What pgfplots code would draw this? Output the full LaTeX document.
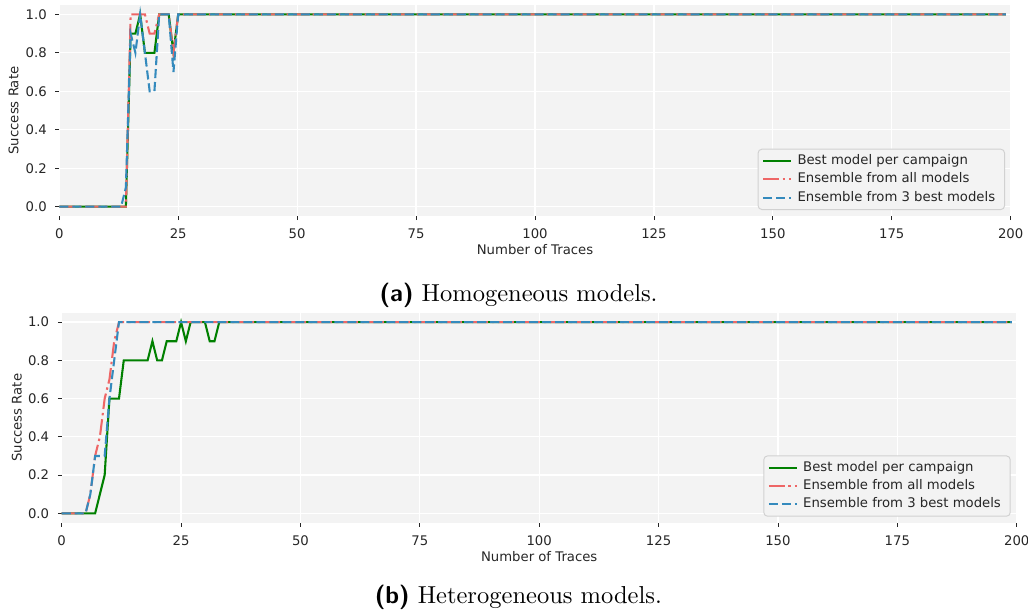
\documentclass[border=0pt]{standalone}
\usepackage{fontspec}
\usepackage{pgfplots}
\pgfplotsset{compat=1.18}
\newfontfamily\dejavu{DejaVu Sans}
\definecolor{bgcol}{HTML}{F3F3F3}
\definecolor{cgreen}{HTML}{008000}
\definecolor{cred}{HTML}{EE6666}
\definecolor{cblue}{HTML}{348ABD}
\definecolor{txt}{HTML}{262626}
\newcommand{\axfont}{\dejavu\fontsize{5.4}{6.5}\selectfont}

\pgfplotstableread{
x y
0 0
14 0
15 0.9
16 0.9
17 1.0
18 0.8
19 0.8
20 0.8
21 1.0
22 1.0
23 1.0
24 0.8
25 1.0
199 1.0
}\topgreen
\pgfplotstableread{
x y
0 0
14 0
15 1.0
16 1.0
17 1.0
18 1.0
19 0.9
20 0.9
21 1.0
22 1.0
23 1.0
24 0.8
25 1.0
199 1.0
}\topred
\pgfplotstableread{
x y
0 0
13 0
14 0.1
15 0.9
16 0.8
17 1.0
18 0.8
19 0.6
20 0.6
21 1.0
22 1.0
23 1.0
24 0.7
25 1.0
199 1.0
}\topblue
\pgfplotstableread{
x y
0 0
7 0
8 0.1
9 0.2
10 0.6
12 0.6
13 0.8
18 0.8
19 0.9
20 0.8
21 0.8
22 0.9
24 0.9
25 1.0
26 0.9
27 1.0
30 1.0
31 0.9
32 0.9
33 1.0
199 1.0
}\botgreen
\pgfplotstableread{
x y
0 0
5 0
6 0.1
7 0.3
8 0.4
9 0.6
10 0.7
11 0.9
12 1.0
199 1.0
}\botred
\pgfplotstableread{
x y
0 0
5 0
6 0.1
7 0.3
8 0.3
9 0.3
10 0.6
11 0.8
12 1.0
199 1.0
}\botblue

\pgfplotsset{
  mystyle/.style={
    scale only axis,
    xmin=0, xmax=200, ymin=-0.05, ymax=1.05,
    xtick={0,25,50,75,100,125,150,175,200},
    ytick={0,0.2,0.4,0.6,0.8,1.0},
    yticklabel={\pgfmathprintnumber[fixed,fixed zerofill,precision=1]{\tick}},
    /pgf/number format/assume math mode=true,
    scaled ticks=false,
    tick label style={font=\axfont, text=txt},
    axis background/.style={fill=bgcol},
    axis line style={draw=none},
    grid=major,
    major grid style={white, line width=0.5pt},
    tick align=outside,
    tick pos=left,
    major tick length=1.6pt,
    tick style={color=txt, line width=0.35pt},
    xlabel={Number of Traces},
    ylabel={Success Rate},
    legend cell align=left,
    legend style={draw=black!18, fill=bgcol, rounded corners=1.5pt,
      font=\axfont, text=txt, inner xsep=1.6pt, inner ysep=1.2pt,
      row sep=0.3pt,
      nodes={inner xsep=2.2pt, inner ysep=1pt, text height=4pt, text depth=1.2pt}},
    legend image code/.code={\draw[##1] (0pt,0pt) -- (11.4pt,0pt);},
    gline/.style={color=cgreen, line width=0.85pt, solid},
    rline/.style={color=cred, line width=0.85pt, dash pattern=on 6.4pt off 1.6pt on 1pt off 1.6pt},
    bline/.style={color=cblue, line width=0.85pt, dash pattern=on 3.7pt off 1.6pt},
  }
}

\begin{document}
\begin{tikzpicture}
\useasboundingbox (0pt,0pt) rectangle (419.42pt,-250.10pt);

\begin{axis}[mystyle,
  at={(24.19pt,-1.92pt)}, anchor=north west,
  width=388.17pt, height=86.33pt,
  every axis x label/.style={at={(axis description cs:0.5,-0.182)}, anchor=base, font=\axfont, text=txt},
  every axis y label/.style={at={(axis description cs:-0.0429,0.5)}, anchor=base, rotate=90, font=\axfont, text=txt},
  legend style={at={(0.994,0.0298)}, anchor=south east},
]
\addplot[gline] table {\topgreen};
\addlegendentry{Best model per campaign}
\addplot[rline] table {\topred};
\addlegendentry{Ensemble from all models}
\addplot[bline] table {\topblue};
\addlegendentry{Ensemble from 3 best models}
\end{axis}

\node[anchor=base, font=\fontsize{10}{12}\selectfont] at (211.6pt,-123.1pt) {\textsf{\textbf{(a)}} Homogeneous models.};

\begin{axis}[mystyle,
  at={(25.17pt,-127.5pt)}, anchor=north west,
  width=389.64pt, height=85.84pt,
  every axis x label/.style={at={(axis description cs:0.5,-0.183)}, anchor=base, font=\axfont, text=txt},
  every axis y label/.style={at={(axis description cs:-0.0419,0.5)}, anchor=base, rotate=90, font=\axfont, text=txt},
  legend style={at={(0.9937,0.0295)}, anchor=south east},
]
\addplot[gline] table {\botgreen};
\addlegendentry{Best model per campaign}
\addplot[rline] table {\botred};
\addlegendentry{Ensemble from all models}
\addplot[bline] table {\botblue};
\addlegendentry{Ensemble from 3 best models}
\end{axis}

\node[anchor=base, font=\fontsize{10}{12}\selectfont] at (211.5pt,-246.1pt) {\textsf{\textbf{(b)}} Heterogeneous models.};
\end{tikzpicture}
\end{document}
